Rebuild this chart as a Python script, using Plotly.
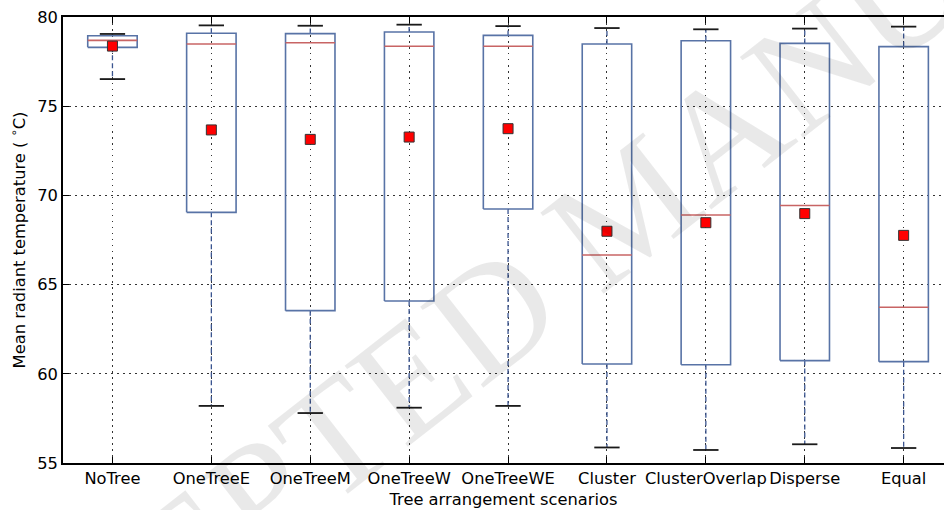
import numpy as np
import plotly.graph_objects as go

# Mean radiant temperature statistics per tree arrangement scenario (deg C)
scenarios = ["NoTree", "OneTreeE", "OneTreeM", "OneTreeW", "OneTreeWE",
             "Cluster", "ClusterOverlap", "Disperse", "Equal"]
whisker_low = [76.52, 58.20, 57.80, 58.10, 58.20, 55.87, 55.73, 56.05, 55.84]
q1 = [78.30, 69.05, 63.54, 64.08, 69.24, 60.55, 60.51, 60.74, 60.68]
median = [78.69, 78.49, 78.56, 78.36, 78.36, 66.66, 68.90, 69.43, 63.73]
q3 = [78.95, 79.09, 79.07, 79.16, 78.97, 78.49, 78.67, 78.52, 78.34]
whisker_high = [79.05, 79.53, 79.51, 79.57, 79.49, 79.38, 79.31, 79.35, 79.46]
mean = [78.37, 73.67, 73.14, 73.27, 73.74, 67.99, 68.47, 68.98, 67.76]

y_ticks = [55, 60, 65, 70, 75, 80]

BOX_HALF = 0.25
CAP_HALF = 0.128

pos = np.arange(len(scenarios))

box_x, box_y = [], []
med_x, med_y = [], []
wh_x, wh_y = [], []
cap_x, cap_y = [], []
for i, p in enumerate(pos):
    l, r = p - BOX_HALF, p + BOX_HALF
    box_x += [l, r, r, l, l, None]
    box_y += [q1[i], q1[i], q3[i], q3[i], q1[i], None]
    med_x += [l, r, None]
    med_y += [median[i], median[i], None]
    wh_x += [p, p, None, p, p, None]
    wh_y += [q3[i], whisker_high[i], None, q1[i], whisker_low[i], None]
    cap_x += [p - CAP_HALF, p + CAP_HALF, None, p - CAP_HALF, p + CAP_HALF, None]
    cap_y += [whisker_high[i], whisker_high[i], None, whisker_low[i], whisker_low[i], None]

fig = go.Figure()
fig.add_trace(go.Scatter(x=wh_x, y=wh_y, mode="lines", hoverinfo="skip",
                         line=dict(color="#3b5590", width=1.3, dash="5px,3px")))
fig.add_trace(go.Scatter(x=cap_x, y=cap_y, mode="lines", hoverinfo="skip",
                         line=dict(color="#1a1a1a", width=1.8)))
fig.add_trace(go.Scatter(x=box_x, y=box_y, mode="lines", hoverinfo="skip",
                         line=dict(color="#5873a6", width=1.6)))
fig.add_trace(go.Scatter(x=med_x, y=med_y, mode="lines", hoverinfo="skip",
                         line=dict(color="#c86464", width=1.6)))
fig.add_trace(go.Scatter(x=pos, y=mean, mode="markers",
                         marker=dict(symbol="square", size=10, color="#ff0000",
                                     line=dict(color="#333333", width=1))))

axis_font = dict(family="DejaVu Sans", size=16.3, color="#000000")

fig.update_layout(
    width=944, height=510,
    margin=dict(l=63, r=0, t=17, b=47),
    paper_bgcolor="white", plot_bgcolor="white",
    showlegend=False,
    font=axis_font,
    xaxis=dict(
        range=[-0.5, -0.5 + 881 / 98.9],
        tickvals=pos, ticktext=scenarios,
        ticks="inside", ticklen=6, tickwidth=1, tickcolor="#000000",
        showline=True, linecolor="#000000", linewidth=1.5, mirror="ticks",
        showgrid=True, gridcolor="#333333", gridwidth=1, griddash="1.5px,4.5px",
        zeroline=False, tickfont=axis_font,
        title=dict(text="Tree arrangement scenarios", font=axis_font, standoff=6),
    ),
    yaxis=dict(
        range=[55, 80], tickvals=y_ticks,
        ticks="inside", ticklen=6, tickwidth=1, tickcolor="#000000",
        showline=True, linecolor="#000000", linewidth=1.5,
        showgrid=True, gridcolor="#333333", gridwidth=1, griddash="1.5px,4.5px",
        zeroline=False, tickfont=axis_font,
        title=dict(text="Mean radiant temperature ( <sup>∘</sup>C)", font=axis_font, standoff=8),
    ),
    annotations=[
        dict(text="ACCEPTED MANUSCRIPT", xref="paper", yref="paper",
             x=0.645, y=0.578, showarrow=False, textangle=-38,
             font=dict(family="Liberation Serif", size=157, color="rgba(0,0,0,0.085)")),
    ],
)

fig.write_html("out.html")
